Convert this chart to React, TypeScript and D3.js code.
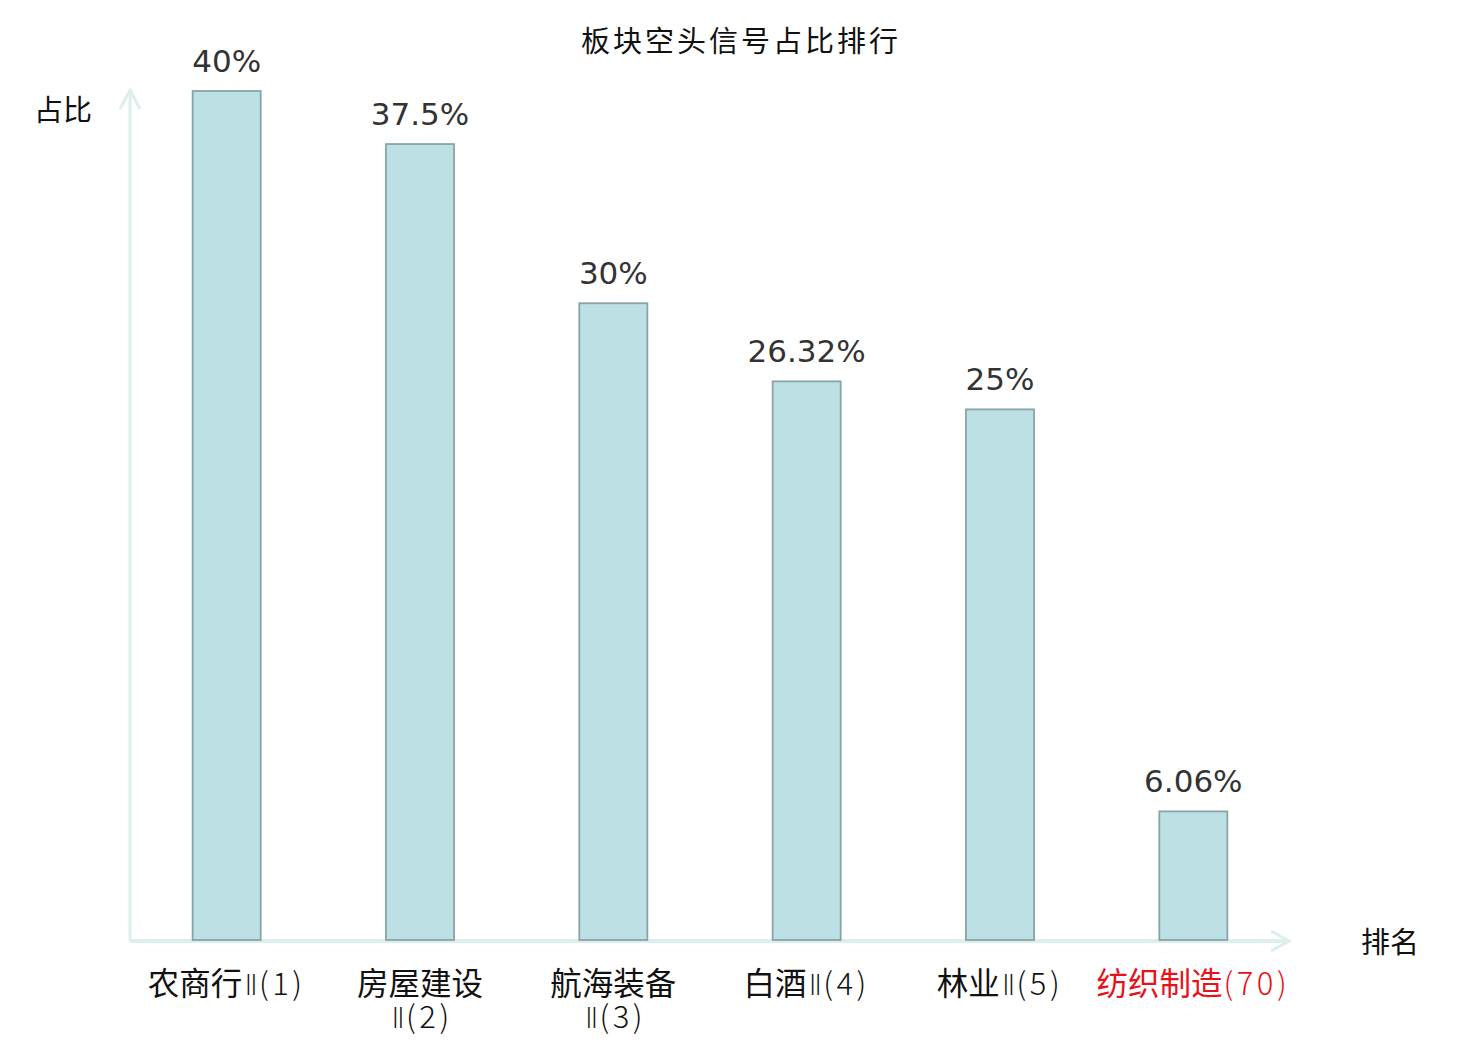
import React from "react";
import * as d3 from "d3";

const categories = ["农商行Ⅱ(1)", "房屋建设Ⅱ(2)", "航海装备Ⅱ(3)", "白酒Ⅱ(4)", "林业Ⅱ(5)", "纺织制造(70)"];
const labelLines = [["农商行Ⅱ(1)"], ["房屋建设", "Ⅱ(2)"], ["航海装备", "Ⅱ(3)"], ["白酒Ⅱ(4)"], ["林业Ⅱ(5)"], ["纺织制造(70)"]];
const values = [40, 37.5, 30, 26.32, 25, 6.06];
const valueLabels = ["40%", "37.5%", "30%", "26.32%", "25%", "6.06%"];
const highlight = [false, false, false, false, false, true];

const W = 1480;
const H = 1040;
const x0 = 130, x1 = 1290;
const yBase = 940, yTop = 91;
const axisColor = "#dcefec";
const font = "'DejaVu Sans', 'Noto Sans CJK SC', sans-serif";
const cjk = "'Noto Sans CJK SC', sans-serif";

// split a label into chinese part, roman numeral and the rank in brackets
function parts(s: string) {
  const m = s.match(/^([^Ⅱ(]*)(Ⅱ?)(\(.*\))?$/);
  return m ? [m[1], m[2], m[3] || ""] : [s, "", ""];
}

export default function App() {
  const x = d3.scaleBand<string>()
    .domain(categories)
    .range([x0, x1])
    .paddingInner(0.648)
    .paddingOuter(0.324);
  const y = d3.scaleLinear().domain([0, 40]).range([yBase, yTop]);

  return (
    <svg width={W} height={H} style={{ position: "absolute", left: 0, top: 0, background: "#fff" }} fontFamily={font}>
      <text x={741} y={52} textAnchor="middle" fontSize={29} letterSpacing={3} fill="#111" fontFamily={cjk}>板块空头信号占比排行</text>

      {/* axes */}
      <line x1={x0} y1={yBase + 1} x2={x0} y2={90} stroke={axisColor} strokeWidth={3} />
      <polyline points={`${x0 - 10},${109} ${x0},${90} ${x0 + 10},${109}`} fill="none" stroke={axisColor} strokeWidth={3} />
      <line x1={x0} y1={yBase + 1} x2={1289} y2={yBase + 1} stroke={axisColor} strokeWidth={4} />
      <polyline points={`${1271},${931} ${1289},${941} ${1271},${951}`} fill="none" stroke={axisColor} strokeWidth={3} />

      <text x={34} y={121} fontSize={29} fill="#111" fontFamily={cjk}>占比</text>
      <text x={1361} y={953} fontSize={29} fill="#111" fontFamily={cjk}>排名</text>

      {categories.map((c, i) => {
        const bx = x(c)!;
        const bw = x.bandwidth();
        const cx = bx + bw / 2;
        return (
          <g key={c}>
            <rect x={bx} y={y(values[i])} width={bw} height={yBase - y(values[i])}
              fill="#bce0e3" stroke="#88a4a6" strokeWidth={1.8} />
            <text x={cx} y={y(values[i]) - 19} textAnchor="middle" fontSize={31} fill="#333">{valueLabels[i]}</text>
            {labelLines[i].map((l, j) => {
              const [zh, roman, rank] = parts(l);
              return (
                <text key={j} x={cx} y={995 + j * 33} textAnchor="middle" fontSize={30}
                  fill={highlight[i] ? "#e8101a" : "#111"}>
                  {zh && <tspan fontFamily={cjk} fontSize={31.5}>{zh}</tspan>}
                  {roman && <tspan fontFamily="'DejaVu Sans'" fontSize={28} fontWeight={200} dx={2}>{roman}</tspan>}
                  {rank && <tspan fontFamily={cjk} fontSize={31} fontWeight={300} letterSpacing={3.5} dx={1}>{rank}</tspan>}
                </text>
              );
            })}
          </g>
        );
      })}
    </svg>
  );
}
